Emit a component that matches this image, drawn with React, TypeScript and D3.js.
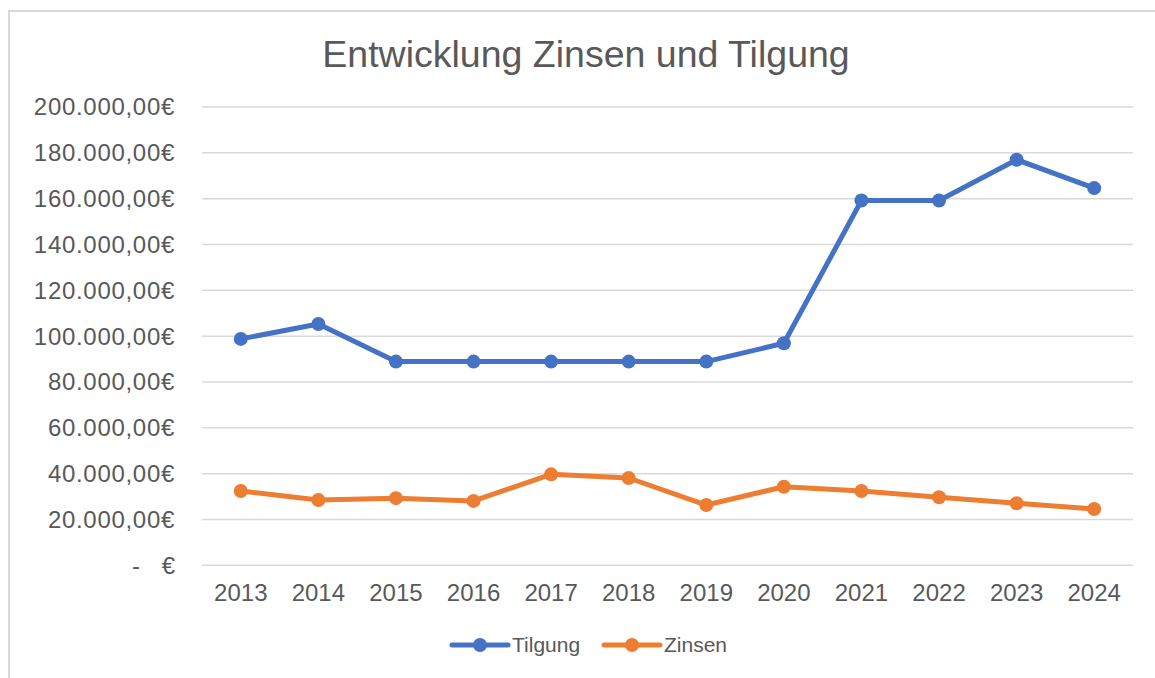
import React, { useRef, useEffect } from "react"
import * as d3 from "d3"

const years = ["2013", "2014", "2015", "2016", "2017", "2018", "2019", "2020", "2021", "2022", "2023", "2024"]
const tilgung = [98800, 105300, 88900, 88900, 88900, 88900, 88900, 96900, 159200, 159200, 177000, 164600]
const zinsen = [32400, 28500, 29300, 28100, 39700, 38100, 26300, 34300, 32400, 29700, 27100, 24600]
const yTicks = [0, 20000, 40000, 60000, 80000, 100000, 120000, 140000, 160000, 180000, 200000]

const W = 1155, H = 678

export default function App() {
  const svgRef = useRef<SVGSVGElement>(null)

  useEffect(() => {
    const svg = d3.select(svgRef.current)
    svg.selectAll("*").remove()

    const font = "'Liberation Sans', Arial, sans-serif"
    const left = 202, right = 1133, top = 107, bottom = 565.3

    // outer chart border (cut off right/bottom in the screenshot)
    svg.append("rect")
      .attr("x", 9).attr("y", 11)
      .attr("width", W + 20).attr("height", H + 20)
      .attr("fill", "white")
      .attr("stroke", "#d9d9d9")
      .attr("stroke-width", 2)

    const x = d3.scaleBand().domain(years).range([left, right]).padding(0)
    const y = d3.scaleLinear().domain([0, 200000]).range([bottom, top])

    // gridlines
    svg.append("g").selectAll("line")
      .data(yTicks)
      .enter()
      .append("line")
      .attr("x1", left).attr("x2", right)
      .attr("y1", d => y(d)).attr("y2", d => y(d))
      .attr("stroke", "#d9d9d9")
      .attr("stroke-width", 1.5)

    const fmt = (d: number) => {
      if (d === 0) return null
      return d3.format(",.2f")(d).replace(/,/g, "#").replace(".", ",").replace(/#/g, ".") + "€"
    }

    // y labels
    const yl = svg.append("g")
    yTicks.forEach(d => {
      const s = fmt(d)
      if (s) {
        yl.append("text")
          .attr("x", 175).attr("y", y(d))
          .attr("dy", "0.35em")
          .attr("text-anchor", "end")
          .attr("fill", "#595959")
          .attr("font-family", font)
          .attr("font-size", "24px")
          .attr("letter-spacing", "0.7px")
          .text(s)
      } else {
        yl.append("text")
          .attr("x", 136).attr("y", y(d))
          .attr("dy", "0.35em")
          .attr("text-anchor", "middle")
          .attr("fill", "#595959")
          .attr("font-family", font)
          .attr("font-size", "24px")
          .text("-")
        yl.append("text")
          .attr("x", 175).attr("y", y(d))
          .attr("dy", "0.35em")
          .attr("text-anchor", "end")
          .attr("fill", "#595959")
          .attr("font-family", font)
          .attr("font-size", "24px")
          .text("€")
      }
    })

    // x labels
    svg.append("g").selectAll("text")
      .data(years)
      .enter()
      .append("text")
      .attr("x", d => (x(d) as number) + x.bandwidth() / 2)
      .attr("y", 601)
      .attr("text-anchor", "middle")
      .attr("fill", "#595959")
      .attr("font-family", font)
      .attr("font-size", "24px")
      .text(d => d)

    // title
    svg.append("text")
      .attr("x", 586).attr("y", 67)
      .attr("text-anchor", "middle")
      .attr("fill", "#595959")
      .attr("font-family", font)
      .attr("font-size", "37.5px")
      .text("Entwicklung Zinsen und Tilgung")

    const series = [
      { name: "Tilgung", values: tilgung, color: "#4472C4" },
      { name: "Zinsen", values: zinsen, color: "#ED7D31" },
    ]

    const line = d3.line<number>()
      .x((d, i) => (x(years[i]) as number) + x.bandwidth() / 2)
      .y(d => y(d))

    series.forEach(s => {
      svg.append("path")
        .datum(s.values)
        .attr("d", line)
        .attr("fill", "none")
        .attr("stroke", s.color)
        .attr("stroke-width", 5)
        .attr("stroke-linejoin", "round")
        .attr("stroke-linecap", "round")
      svg.append("g").selectAll("circle")
        .data(s.values)
        .enter()
        .append("circle")
        .attr("cx", (d, i) => (x(years[i]) as number) + x.bandwidth() / 2)
        .attr("cy", d => y(d))
        .attr("r", 7)
        .attr("fill", s.color)
    })

    // legend
    const legX = [452, 604]
    series.forEach((s, i) => {
      const g = svg.append("g").attr("transform", "translate(" + legX[i] + ",645)")
      g.append("line")
        .attr("x1", 0).attr("x2", 56)
        .attr("y1", 0).attr("y2", 0)
        .attr("stroke", s.color)
        .attr("stroke-width", 5)
        .attr("stroke-linecap", "round")
      g.append("circle").attr("cx", 28).attr("cy", 0).attr("r", 7).attr("fill", s.color)
      g.append("text")
        .attr("x", 60).attr("y", 0)
        .attr("dy", "0.35em")
        .attr("fill", "#595959")
        .attr("font-family", font)
        .attr("font-size", "21px")
        .text(s.name)
    })
  }, [])

  return (
    <svg ref={svgRef} width={W} height={H}
      style={{ position: "absolute", left: 0, top: 0, background: "white" }} />
  )
}
